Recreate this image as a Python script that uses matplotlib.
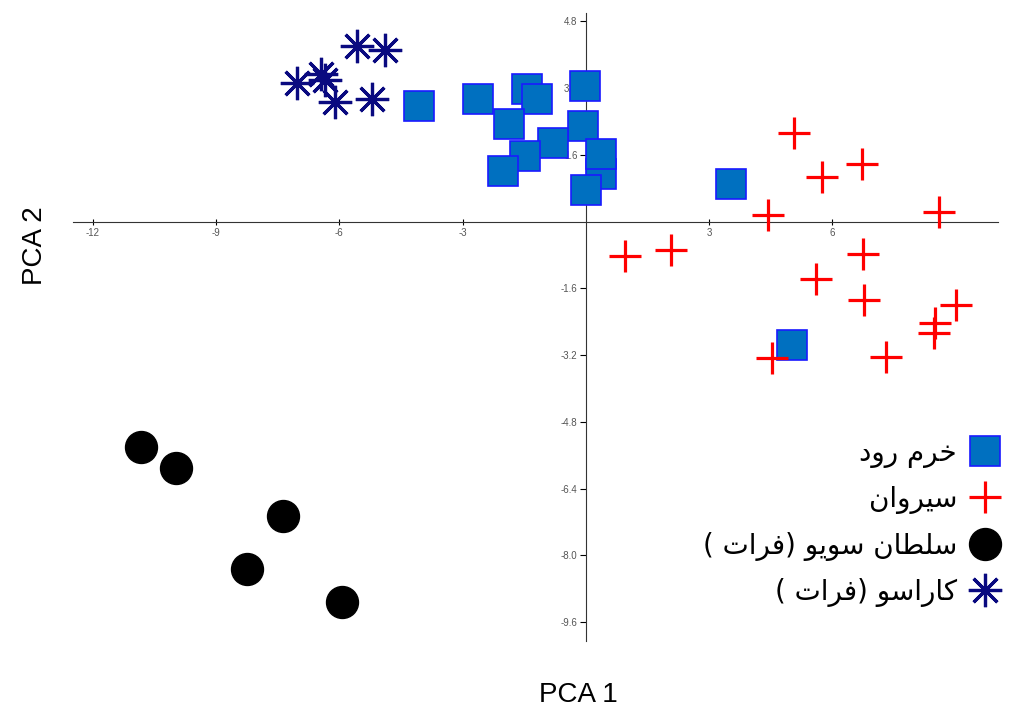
import matplotlib
matplotlib.use("Agg")
import matplotlib.pyplot as plt
from matplotlib.lines import Line2D

# group labels, written in visual order with Arabic presentation forms
# (matplotlib does no Arabic shaping or right-to-left layout)
khorramrud_label = "\uFEA9\uFEED\uFEAD \uFEE1\uFEAE\uFEA7"          # خرم رود
sirvan_label = "\uFEE5\uFE8D\uFEED\uFEAE\uFEF4\uFEB3"               # سیروان
sultansuyu_label = ("( \uFE95\uFE8D\uFEAE\uFED3) \uFEEE\uFEF3\uFEEE\uFEB3 "
                    "\uFEE5\uFE8E\uFEC4\uFEE0\uFEB3")               # سلطان سویو (فرات )
karasu_label = "( \uFE95\uFE8D\uFEAE\uFED3) \uFEEE\uFEB3\uFE8D\uFEAD\uFE8E\uFB90"  # کاراسو (فرات )

khorramrud_x = [-4.06, -2.63, -1.44, -1.19, -0.02, -1.87, -0.07, -0.80,
                -1.48, -2.02, 0.36, 0.36, 0.0, 3.53, 5.01]
khorramrud_y = [2.76, 2.93, 3.17, 2.93, 3.24, 2.33, 2.30, 1.89,
                1.58, 1.22, 1.13, 1.61, 0.77, 0.91, -2.95]

sirvan_x = [5.06, 5.74, 6.72, 4.43, 8.59, 0.95, 2.07, 6.74, 5.60, 6.76,
            9.00, 8.49, 8.47, 7.30, 4.53]
sirvan_y = [2.13, 1.08, 1.37, 0.17, 0.22, -0.82, -0.67, -0.77, -1.37, -1.89,
            -1.99, -2.42, -2.66, -3.24, -3.26]

sultansuyu_x = [-10.83, -9.98, -7.37, -8.25, -5.94]
sultansuyu_y = [-5.40, -5.90, -7.05, -8.32, -9.11]

karasu_x = [-7.03, -6.45, -6.35, -6.11, -5.57, -4.89, -5.21]
karasu_y = [3.32, 3.55, 3.40, 2.87, 4.20, 4.12, 2.93]

x_ticks = [-12, -9, -6, -3, 3, 6]
y_ticks = [4.8, 3.2, 1.6, -1.6, -3.2, -4.8, -6.4, -8.0, -9.6]

fig = plt.figure(figsize=(10.18, 7.11), dpi=100)
ax = fig.add_axes([0.0717, 0.0985, 0.9083, 0.8832])

star = (8, 2, 0)
ax.plot(khorramrud_x, khorramrud_y, ls='none', marker='s', ms=22,
        mfc='#0070C0', mec='#1a1aff', mew=1.2, zorder=3)
ax.plot(sirvan_x, sirvan_y, ls='none', marker='+', ms=23,
        mec='#ff0000', mew=2.3, zorder=3)
ax.plot(sultansuyu_x, sultansuyu_y, ls='none', marker='o', ms=23,
        mfc='black', mec='black', zorder=3)
ax.plot(karasu_x, karasu_y, ls='none', marker=star, ms=24,
        mec='#0a0a80', mew=2.3, zorder=3)

ax.set_xlim(-12.48, 10.02)
ax.set_ylim(-10.05, 5.0)

for side in ['top', 'right']:
    ax.spines[side].set_visible(False)
ax.spines['left'].set_position(('data', 0))
ax.spines['bottom'].set_position(('data', 0))
ax.spines['left'].set_color('#333333')
ax.spines['bottom'].set_color('#333333')

ax.set_xticks(x_ticks)
ax.set_xticklabels([str(t) for t in x_ticks])
ax.set_yticks(y_ticks)
ax.set_yticklabels(['%.1f' % t for t in y_ticks])
ax.tick_params(axis='x', direction='inout', length=5, width=0.8,
               labelsize=7, labelcolor='#555555', pad=2)
ax.tick_params(axis='y', direction='out', length=4, width=0.8,
               labelsize=7, labelcolor='#555555', pad=2)
for lbl in ax.get_xticklabels() + ax.get_yticklabels():
    lbl.set_family('Liberation Sans')

fig.text(0.034, 0.655, 'PCA 2', rotation=90, ha='center', va='center',
         fontsize=20, family='Liberation Sans')
fig.text(0.568, 0.022, 'PCA 1', ha='center', va='center',
         fontsize=20, family='Liberation Sans')

handles = [
    Line2D([], [], ls='none', marker='s', ms=22, mfc='#0070C0',
           mec='#1a1aff', mew=1.2),
    Line2D([], [], ls='none', marker='+', ms=23, mec='#ff0000', mew=2.3),
    Line2D([], [], ls='none', marker='o', ms=23, mfc='black', mec='black'),
    Line2D([], [], ls='none', marker=star, ms=24, mec='#0a0a80', mew=2.3),
]
labels = [khorramrud_label, sirvan_label, sultansuyu_label, karasu_label]
ax.legend(handles, labels, loc='lower right', bbox_to_anchor=(0.985, 0.146),
          bbox_transform=fig.transFigure, markerfirst=False, frameon=False,
          prop={'family': 'DejaVu Sans', 'size': 20}, labelspacing=0.63,
          handlelength=1.3, handletextpad=0.35, borderpad=0, borderaxespad=0)

fig.savefig('out.png', dpi=100)
